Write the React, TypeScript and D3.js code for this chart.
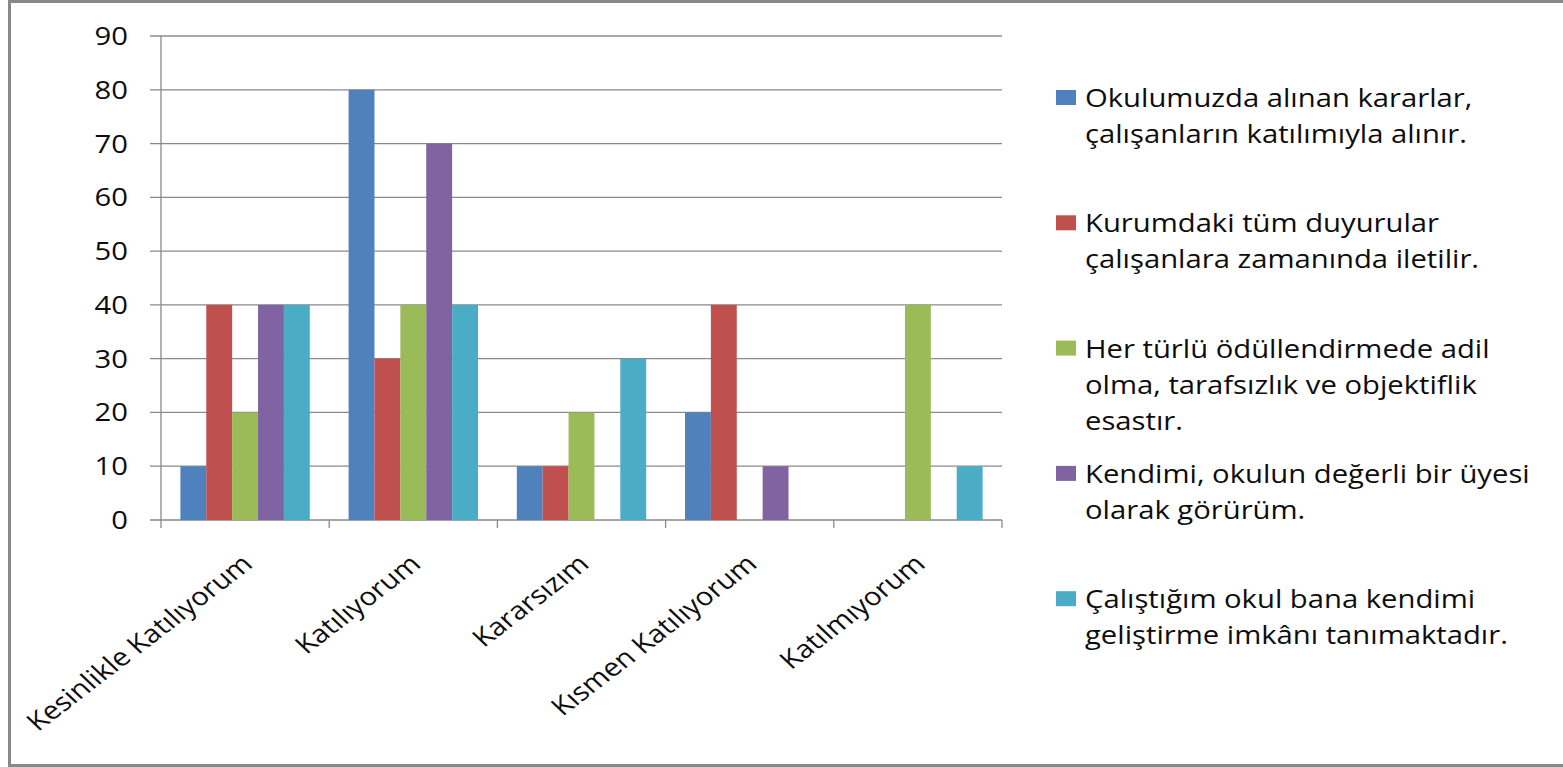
import * as d3 from 'd3';

// Survey answer categories (x axis)
const categories = [
  'Kesinlikle Katılıyorum',
  'Katılıyorum',
  'Kararsızım',
  'Kısmen Katılıyorum',
  'Katılmıyorum',
];

// Statements (legend), each split into the lines shown
const seriesNames = [
  ['Okulumuzda alınan kararlar,', 'çalışanların katılımıyla alınır.'],
  ['Kurumdaki tüm duyurular', 'çalışanlara zamanında iletilir.'],
  ['Her türlü ödüllendirmede adil', 'olma, tarafsızlık ve objektiflik', 'esastır.'],
  ['Kendimi, okulun değerli bir üyesi', 'olarak görürüm.'],
  ['Çalıştığım okul bana kendimi', 'geliştirme imkânı tanımaktadır.'],
];

const seriesColors = ['#4F81BD', '#C0504D', '#9BBB59', '#8064A2', '#4BACC6'];

// values per series, in category order
const s1 = [10, 80, 10, 20, 0];
const s2 = [40, 30, 10, 40, 0];
const s3 = [20, 40, 20, 0, 40];
const s4 = [40, 70, 0, 10, 0];
const s5 = [40, 40, 30, 0, 10];
const seriesValues = [s1, s2, s3, s4, s5];

const yTicks = [0, 10, 20, 30, 40, 50, 60, 70, 80, 90];

const W = 1563;
const H = 767;
const FONT = '"Open Sans", sans-serif';
const SX = 1.17; // the original is stretched horizontally
const GRID = '#8a8a8a';
const INK = '#0d0d0d';

export default function App() {
  const plotLeft = 161;
  const plotRight = 1002;
  const plotTop = 36;
  const plotBottom = 520;

  const x0 = d3.scaleBand<string>().domain(categories).range([plotLeft, plotRight]);
  const bw = x0.bandwidth();
  const gap = (bw * 1.5) / 6.5;
  const x1 = d3
    .scaleBand<number>()
    .domain(d3.range(seriesValues.length))
    .range([gap / 2, bw - gap / 2]);
  const y = d3.scaleLinear().domain([0, 90]).range([plotBottom, plotTop]);

  const boundaries = [...categories.map((c) => x0(c) as number), plotRight];

  // legend layout
  const legX = 1056;
  const legTextX = 1085;
  const legTop = 107;
  const legStep = 125.3;
  const lineH = 36;

  return (
    <svg
      width={W}
      height={H}
      style={{ position: 'absolute', left: 0, top: 0, background: '#fff' }}
      fontFamily={FONT}
    >
      <rect x={0} y={0} width={W} height={H} fill="#fff" />
      {/* chart frame */}
      <rect x={9.5} y={1.5} width={W + 20} height={H - 3} fill="none" stroke="#888" strokeWidth={3} />

      {/* gridlines */}
      {yTicks.map((t) => (
        <line key={t} x1={150} x2={plotRight} y1={y(t)} y2={y(t)} stroke={GRID} strokeWidth={1.3} />
      ))}
      {/* y axis */}
      <line x1={plotLeft} x2={plotLeft} y1={plotTop} y2={plotBottom} stroke={GRID} strokeWidth={1.3} />
      {/* x ticks */}
      {boundaries.map((b, i) => (
        <line key={i} x1={b} x2={b} y1={plotBottom} y2={plotBottom + 8} stroke={GRID} strokeWidth={1.3} />
      ))}

      {/* bars */}
      {categories.map((c, ci) => (
        <g key={c} transform={`translate(${x0(c)},0)`}>
          {seriesValues.map((vals, si) => (
            <rect
              key={si}
              x={x1(si)}
              width={x1.bandwidth()}
              y={y(vals[ci])}
              height={plotBottom - y(vals[ci])}
              fill={seriesColors[si]}
            />
          ))}
        </g>
      ))}

      {/* y tick labels */}
      {yTicks.map((t) => (
        <text
          key={t}
          transform={`translate(128,${y(t) + 9}) scale(${SX},1)`}
          textAnchor="end"
          fontSize={25}
          fill={INK}
        >
          {t}
        </text>
      ))}

      {/* x category labels */}
      {categories.map((c) => (
        <text
          key={c}
          transform={`translate(${(x0(c) as number) + bw / 2 + 9},566) scale(${SX},1) rotate(-42)`}
          textAnchor="end"
          fontSize={25}
          fill={INK}
        >
          {c}
        </text>
      ))}

      {/* legend */}
      {seriesNames.map((lines, i) => {
        const top = legTop + i * legStep;
        return (
          <g key={i}>
            <rect x={legX} y={top - 17} width={20} height={15} fill={seriesColors[i]} />
            {lines.map((ln, j) => (
              <text
                key={j}
                transform={`translate(${legTextX},${top + j * lineH}) scale(${SX},1)`}
                fontSize={25}
                fill={INK}
              >
                {ln}
              </text>
            ))}
          </g>
        );
      })}
    </svg>
  );
}
